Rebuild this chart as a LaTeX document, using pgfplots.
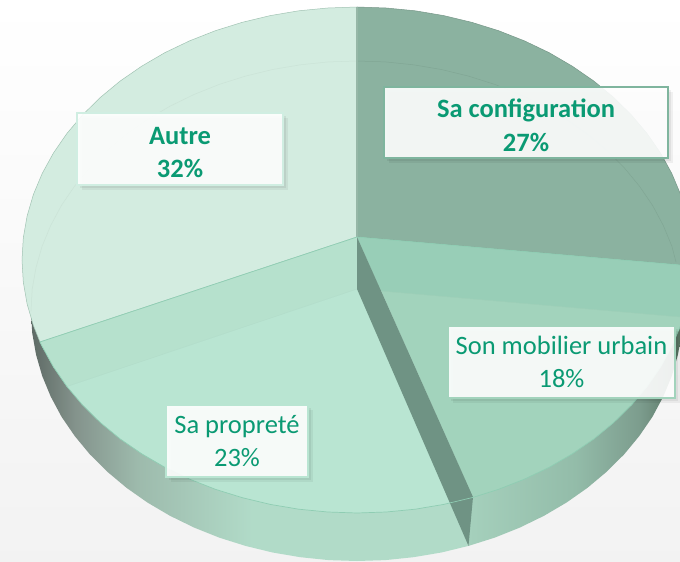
\documentclass[border=0pt]{standalone}
\usepackage{pgfplots}
\pgfplotsset{compat=1.18}
\usepackage{fontspec}
\setmainfont{Carlito}
\usetikzlibrary{shadows}
\definecolor{lblue}{HTML}{0A9A73}
\definecolor{cAutre}{HTML}{D3ECE0}
\definecolor{cProp}{HTML}{B9E5D2}
\definecolor{cPropB}{HTML}{B6E1CD}
\definecolor{cMob}{HTML}{A2D3BC}
\definecolor{cMobB}{HTML}{98CEB7}
\definecolor{cConf}{HTML}{8BB2A0}
\definecolor{cDark}{HTML}{6F9384}
\definecolor{wa}{HTML}{5E6A65}
\definecolor{wb}{HTML}{84938C}
\definecolor{wc}{HTML}{9DBAAC}
\definecolor{wd}{HTML}{B1DBC8}
\definecolor{we}{HTML}{A5D0BC}
\definecolor{wf}{HTML}{93BCA9}
\definecolor{wg}{HTML}{7C9C8D}
\definecolor{wh}{HTML}{55705F}
\definecolor{rimc}{HTML}{8FCDB3}
\definecolor{bAutre}{HTML}{D0EEE2}
\definecolor{bConf}{HTML}{7FB59E}
\pgfdeclarehorizontalshading{leftwall}{100bp}{
 color(0bp)=(wa);
 color(25bp)=(wa);
 color(30bp)=(wb);
 color(37bp)=(wc);
 color(50bp)=(wd);
 color(75bp)=(wd);
 color(100bp)=(wd)}
\pgfdeclarehorizontalshading{rightwall}{100bp}{
 color(0bp)=(we);
 color(25bp)=(we);
 color(50bp)=(wf);
 color(65bp)=(wg);
 color(75bp)=(wh);
 color(100bp)=(wh)}
\tikzset{lab/.style={draw=#1,line width=1.2pt,fill=white,fill opacity=.9,draw opacity=1,text opacity=1,
 text=lblue,align=center,inner sep=0pt,
 font=\fontsize{26.5}{33.5}\selectfont,
 drop shadow={shadow xshift=5pt,shadow yshift=-5pt,opacity=.05,fill=black},
 drop shadow={shadow xshift=3pt,shadow yshift=-3pt,opacity=.06,fill=black}}}
\begin{document}
\begin{tikzpicture}
\begin{axis}[hide axis,scale only axis,width=680pt,height=562pt,
 xmin=0,xmax=680,ymin=0,ymax=562,y dir=reverse,clip=true]
% background
\addplot[draw=none,shade,top color=white,bottom color=black!5] coordinates {(0,0)(680,0)(680,562)(0,562)} -- cycle;
% side walls
\addplot[draw=none,shade,shading=leftwall] coordinates {(31,311)(32.2,332.8)(36,354.4)(42.1,375.7)(50.7,396.5)(61.5,416.7)(74.7,436)(89.9,454.4)(107.3,471.7)(126.5,487.8)(147.4,502.5)(170,515.8)(194,527.5)(219.2,537.6)(245.5,545.9)(272.6,552.5)(300.4,557.2)(328.6,560.1)(357,561)(385.4,560.1)(413.4,557.2)(441.4,552.5)(468.5,545.9)(473,497)(357,400)(31,300)} -- cycle;
\addplot[draw=none,shade,shading=rightwall] coordinates {(468.5,545.9)(494.8,537.6)(520,527.5)(544,515.8)(566.6,502.5)(587.5,487.8)(606.7,471.7)(624.1,454.4)(639.3,436)(652.5,416.7)(663.3,396.5)(671.9,375.7)(678,354.4)(681.8,332.8)(683,311)(683,290)(473,400)} -- cycle;
% top faces
\addplot[fill=cAutre,draw=cConf!70!cAutre,line width=.5pt] coordinates {(357,237)(357,7)(327.8,8)(298.8,10.8)(270.3,15.6)(242.4,22.3)(215.4,30.7)(189.5,40.9)(164.8,52.7)(141.7,66.2)(120.1,81.1)(100.4,97.4)(82.6,114.9)(66.9,133.5)(53.4,153.1)(42.2,173.5)(33.4,194.5)(27.1,216.1)(23.3,237.9)(22,260)(23.3,282.1)(27.1,303.9)(33.4,325.5)(40,342)} -- cycle;
\addplot[fill=cConf,draw=cConf!85!black,line width=.5pt] coordinates {(357,237)(692,266)(692,260)(690.7,237.9)(686.9,216.1)(680.6,194.5)(671.8,173.5)(660.6,153.1)(647.1,133.5)(631.4,114.9)(613.6,97.4)(593.9,81.1)(572.3,66.2)(549.2,52.7)(524.5,40.9)(498.6,30.7)(471.6,22.3)(443.7,15.6)(415.2,10.8)(386.2,8)(357,7)} -- cycle;
\addplot[fill=cProp,draw=none] coordinates {(357,237)(40,342)(42.2,346.5)(53.4,366.9)(66.9,386.5)(82.6,405.1)(100.4,422.6)(120.1,438.9)(141.7,453.8)(164.8,467.3)(189.5,479.1)(215.4,489.3)(242.4,497.7)(270.3,504.4)(298.8,509.2)(327.8,512)(357,513)(386.2,512)(415.2,509.2)(443.7,504.4)(471.6,497.7)(473,497.4)} -- cycle;
\addplot[fill=cPropB,draw=none] coordinates {(357,237)(40,342)(42.2,346.5)(53.4,366.9)(66.9,386.5)(357,289)} -- cycle;
\addplot[fill=cMob,draw=none] coordinates {(357,237)(473,497.4)(498.6,489.3)(524.5,479.1)(549.2,467.3)(572.3,453.8)(593.9,438.9)(613.6,422.6)(631.4,405.1)(647.1,386.5)(660.6,366.9)(671.8,346.5)(680.6,325.5)(686.9,303.9)(690.7,282.1)(692,266)} -- cycle;
\addplot[fill=cMobB,draw=none] coordinates {(357,237)(692,266)(692,318)(381,291)} -- cycle;
% radial wall
\addplot[fill=cDark,draw=none] coordinates {(357,237)(473,497)(468.5,545.9)(357,289)} -- cycle;
% lines
\addplot[draw=cAutre!96!black,line width=.5pt] coordinates {(31,311)(32.2,289.2)(36,267.6)(42.1,246.3)(50.7,225.5)(61.5,205.3)(74.7,186)(89.9,167.6)(107.3,150.3)(126.5,134.2)(147.4,119.5)(170,106.2)(194,94.5)(219.2,84.4)(245.5,76.1)(272.6,69.5)(300.4,64.8)(328.6,61.9)(357,61)};
\addplot[draw=cConf!93!black,line width=.5pt] coordinates {(357,61)(385.4,61.9)(413.4,64.8)(441.4,69.5)(468.5,76.1)(494.8,84.4)(520,94.5)(544,106.2)(566.6,119.5)(587.5,134.2)(606.7,150.3)(624.1,167.6)(639.3,186)(652.5,205.3)(663.3,225.5)(671.9,246.3)(676,262)};
\addplot[draw=cProp!96!black,line width=.4pt] coordinates {(357,289)(66.9,386.5)};
\addplot[draw=cMob!98!black,line width=.4pt] coordinates {(381,291)(692,318)};
\addplot[draw=wc!60!cConf,line width=1.2pt] coordinates {(357,7)(357,237)};
\addplot[draw=rimc,line width=.7pt] coordinates {(357,237)(692,266)};
\addplot[draw=rimc,line width=.7pt] coordinates {(357,237)(40,342)};
\addplot[draw=rimc,line width=.7pt] coordinates {(40,342)(42.2,346.5)(53.4,366.9)(66.9,386.5)(82.6,405.1)(100.4,422.6)(120.1,438.9)(141.7,453.8)(164.8,467.3)(189.5,479.1)(215.4,489.3)(242.4,497.7)(270.3,504.4)(298.8,509.2)(327.8,512)(357,513)(386.2,512)(415.2,509.2)(443.7,504.4)(473,497.4)(498.6,489.3)(524.5,479.1)(549.2,467.3)(572.3,453.8)(593.9,438.9)(613.6,422.6)(631.4,405.1)(647.1,386.5)(660.6,366.9)(671.8,346.5)(680.6,325.5)};
% labels
\node[lab=bAutre,minimum width=206pt,minimum height=72pt] at (axis cs:180,149) {\rule{0pt}{24pt}\textbf{Autre}\\\textbf{32\%}};
\node[lab=bConf,minimum width=284pt,minimum height=71pt] at (axis cs:526,122.5) {\rule{0pt}{24pt}\textbf{Sa configuration}\\\textbf{27\%}};
\node[lab=cProp,minimum width=142pt,minimum height=72pt] at (axis cs:237,441) {Sa propreté\\23\%};
\node[lab=cMob,minimum width=227pt,minimum height=72pt] at (axis cs:561.5,362) {Son mobilier urbain\\18\%};
\end{axis}
\end{tikzpicture}
\end{document}
